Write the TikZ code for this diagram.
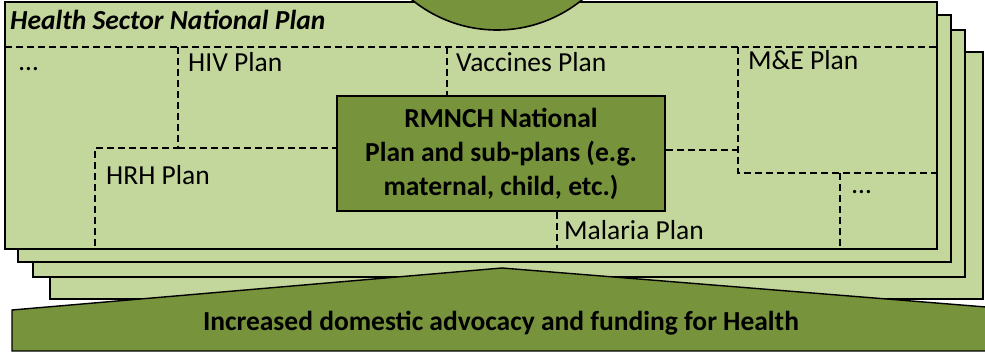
\documentclass[tikz,border=0pt]{standalone}
\usepackage{fontspec}
\setmainfont{Carlito}
\definecolor{lightg}{RGB}{195,214,155}
\definecolor{darkg}{RGB}{119,147,60}
\begin{document}
\begin{tikzpicture}[x=1pt,y=-1pt,
  sheet/.style={fill=lightg,draw=black,line width=1.8pt},
  part/.style={draw=black,line width=1.2pt,dash pattern=on 7pt off 4pt},
  lab/.style={font=\fontsize{27.5}{32}\selectfont,anchor=base west,inner sep=0pt},
  boldlab/.style={font=\bfseries\fontsize{27.5}{32}\selectfont,inner sep=0pt},
  core/.style={fill=darkg,draw=black,line width=1.8pt,minimum width=328pt,minimum height=115pt,
    align=center,inner sep=0pt,font=\bfseries\fontsize{27.5}{34}\selectfont}]
\useasboundingbox (0,0) rectangle (985,352);
% stacked sheets
\draw[sheet] (50,52) rectangle (983,299);
\draw[sheet] (33,30) rectangle (965,277);
\draw[sheet] (18,15) rectangle (951,262);
% advocacy arrow
\draw[fill=darkg,draw=black,line width=1.4pt] (12,351) -- (12,310) -- (502,268) -- (986,307) -- (986,351) -- cycle;
\node[boldlab,anchor=base] (adv) at (501,331) {Increased domestic advocacy and funding for Health};
% front sheet
\draw[sheet] (5,2) rectangle (937,249);
\begin{scope}
\clip (0,0) rectangle (985,352);
\draw[fill=darkg,draw=black,line width=1.6pt] (497,-105) circle[radius=135];
\end{scope}
% core box
\node[core] (rmnch) at (501,153.5) {RMNCH National\\Plan and sub-plans (e.g.\\maternal, child, etc.)};
% partitions
\coordinate (tl) at (5,47);
\coordinate (tr) at (937,47);
\draw[part] (tl) -- (tr);
\draw[part] (178,47) -- (178,148) -- (95,148) -- (95,249);
\draw[part] (178,148) -- (rmnch.west |- 0,148);
\draw[part] (447,47) -- (rmnch.north -| 447,0);
\draw[part] (rmnch.east |- 0,150) -- (738,150);
\draw[part] (738,47) -- (738,173) -- (937,173);
\draw[part] (840,173) -- (840,249);
\draw[part] (rmnch.south -| 557,0) -- (557,249);
% labels
\node[lab,font=\bfseries\itshape\fontsize{27.5}{32}\selectfont] (title) at (10,30) {Health Sector National Plan};
\node[lab] (dots1) at (19,71) {…};
\node[lab] (hiv) at (188,72) {HIV Plan};
\node[lab] (vac) at (456,72) {Vaccines Plan};
\node[lab] (me) at (748,70) {M\&E Plan};
\node[lab] (hrh) at (106,185) {HRH Plan};
\node[lab] (mal) at (564,240) {Malaria Plan};
\node[lab] (dots2) at (852,194) {…};
\end{tikzpicture}
\end{document}
